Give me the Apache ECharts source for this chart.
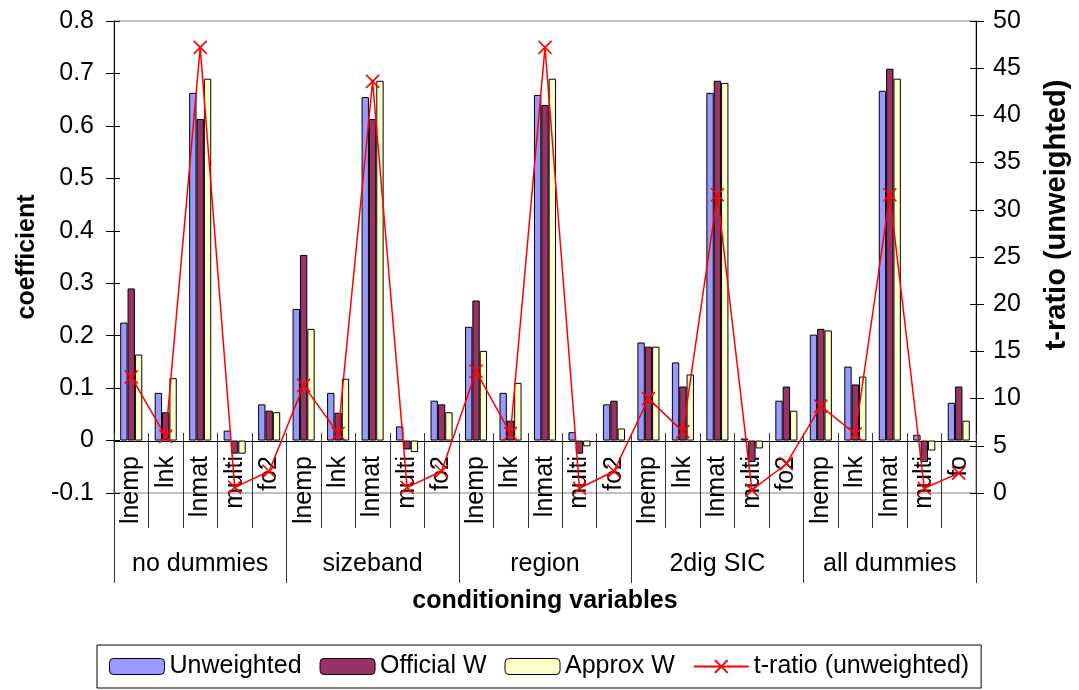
<!DOCTYPE html>
<html>
<head>
<meta charset="utf-8">
<script src="https://cdn.jsdelivr.net/npm/echarts@6/dist/echarts.min.js"></script>
<style>
  html, body { margin: 0; padding: 0; background: #fff; }
  #chart { width: 1079px; height: 690px; }
</style>
</head>
<body>
<div id="chart"></div>
<script>
// Regression specifications (outer category level)
const groups = ['no dummies', 'sizeband', 'region', '2dig SIC', 'all dummies'];
// Regressors within each specification (inner category level)
const regressors = [
  ['lnemp', 'lnk', 'lnmat', 'multi', 'fo2'],
  ['lnemp', 'lnk', 'lnmat', 'multi', 'fo2'],
  ['lnemp', 'lnk', 'lnmat', 'multi', 'fo2'],
  ['lnemp', 'lnk', 'lnmat', 'multi', 'fo2'],
  ['lnemp', 'lnk', 'lnmat', 'multi', 'fo']
];

// Coefficient estimates, in the same order as the flattened regressors
const coefUnweighted = [0.225, 0.091, 0.663, 0.019, 0.069,
                        0.251, 0.091, 0.655, 0.027, 0.076,
                        0.217, 0.091, 0.659, 0.016, 0.069,
                        0.187, 0.149, 0.663, 0.004, 0.076,
                        0.202, 0.141, 0.667, 0.011, 0.072];
const coefOfficial   = [0.290, 0.054, 0.613, -0.025, 0.057,
                        0.354, 0.053, 0.613, -0.017, 0.069,
                        0.267, 0.038, 0.640, -0.025, 0.076,
                        0.179, 0.103, 0.686, -0.041, 0.103,
                        0.213, 0.107, 0.709, -0.041, 0.103];
const coefApprox     = [0.164, 0.119, 0.690, -0.025, 0.054,
                        0.213, 0.118, 0.686, -0.022, 0.054,
                        0.171, 0.110, 0.690, -0.011, 0.023,
                        0.179, 0.126, 0.682, -0.015, 0.057,
                        0.210, 0.122, 0.690, -0.019, 0.038];
// t-ratios of the unweighted estimates (right axis)
const tRatio         = [12.3, 6.0, 47.2, 0.6, 2.3,
                        11.4, 6.3, 43.6, 0.6, 2.3,
                        12.9, 6.3, 47.2, 0.5, 2.3,
                        10.0, 6.5, 31.6, 0.3, 3.1,
                        9.2, 6.25, 31.6, 0.5, 2.1];

// Unique keys for the 25 inner categories: "group|regressor"
const categories = [];
groups.forEach((g, i) => regressors[i].forEach(r => categories.push(g + '|' + r)));

const FONT = '"Liberation Sans", Arial, sans-serif';
const COL_U = '#9999FF', COL_O = '#993366', COL_A = '#FFFFCC', COL_T = '#FF0000';
const crossSymbol = 'path://M0,0 L10,10 M10,0 L0,10';

// Value ranges; the category axis is drawn at the zero of the coefficient axis
const COEF_MIN = -0.1, COEF_MAX = 0.8, COEF_STEP = 0.1;
const T_MIN = 0, T_MAX = 50, T_STEP = 5;
const GRID_TOP = 21, GRID_BOTTOM = 197, CHART_H = 690;
const plotH = CHART_H - GRID_TOP - GRID_BOTTOM;
const zeroLift = Math.round(plotH * (0 - COEF_MIN) / (COEF_MAX - COEF_MIN));

const chart = echarts.init(document.getElementById('chart'), null, { renderer: 'canvas' });

const barStyle = c => ({ color: c, borderColor: '#000', borderWidth: 1 });

// Extra value axis drawing only the inner half of the crossing tick marks
const innerTicks = (min, max, step, pos) => ({
  type: 'value', min, max, interval: step, position: pos,
  axisLine: { show: false }, axisLabel: { show: false }, splitLine: { show: false },
  axisTick: { show: true, inside: true, length: 6, lineStyle: { color: '#000' } }
});

chart.setOption({
  animation: false,
  textStyle: { fontFamily: FONT, color: '#000' },
  grid: {
    left: 114, right: 94, top: GRID_TOP, bottom: GRID_BOTTOM,
    show: true, borderColor: '#808080', borderWidth: 1, backgroundColor: 'transparent'
  },
  legend: {
    left: 97, top: 645,
    padding: [9, 12],
    itemGap: 18,
    itemWidth: 55, itemHeight: 16,
    borderColor: '#000', borderWidth: 1,
    textStyle: { fontFamily: FONT, fontSize: 25, color: '#000' },
    data: [
      { name: 'Unweighted', itemStyle: barStyle(COL_U) },
      { name: 'Official W', itemStyle: barStyle(COL_O) },
      { name: 'Approx W', itemStyle: barStyle(COL_A) },
      { name: 't-ratio (unweighted)' }
    ]
  },
  xAxis: [
    {
      // inner level: regressors, axis line sits on the zero of the coefficient axis
      type: 'category',
      data: categories,
      position: 'bottom',
      offset: -zeroLift,
      axisLine: { show: true, onZero: false, lineStyle: { color: '#000', width: 1 } },
      axisTick: { show: true, interval: 0, length: 87, lineStyle: { color: '#333' } },
      axisLabel: {
        interval: 0, rotate: 90, margin: 15,
        fontSize: 25, fontFamily: FONT, color: '#000',
        formatter: v => v.split('|')[1]
      },
      splitLine: { show: false }
    },
    {
      // outer level: specifications, separators span both label rows
      type: 'category',
      data: groups,
      position: 'bottom',
      offset: 90,
      axisLine: { show: false, onZero: false },
      axisTick: { show: true, interval: 0, inside: true, length: 150, lineStyle: { color: '#333' } },
      axisLabel: { interval: 0, inside: true, margin: 6, fontSize: 25, fontFamily: FONT, color: '#000' },
      name: 'conditioning variables',
      nameLocation: 'middle',
      nameGap: 4,
      nameTextStyle: { fontSize: 25, fontWeight: 'bold', fontFamily: FONT, color: '#000', verticalAlign: 'top' },
      splitLine: { show: false }
    },
    {
      // short stubs of the inner separators above the zero line
      type: 'category',
      data: categories,
      position: 'bottom',
      offset: -zeroLift,
      axisLine: { show: false, onZero: false },
      axisTick: { show: true, interval: 0, inside: true, length: 8, lineStyle: { color: '#333' } },
      axisLabel: { show: false },
      splitLine: { show: false }
    }
  ],
  yAxis: [
    {
      type: 'value',
      min: COEF_MIN, max: COEF_MAX, interval: COEF_STEP,
      axisLine: { show: true, lineStyle: { color: '#000' } },
      axisTick: { show: true, length: 8, lineStyle: { color: '#000' } },
      axisLabel: {
        margin: 20, fontSize: 25, fontFamily: FONT, color: '#000',
        formatter: v => String(Math.round(v * 10) / 10)
      },
      splitLine: { show: false },
      name: 'coefficient',
      nameLocation: 'middle',
      nameRotate: 90,
      nameGap: 74,
      nameTextStyle: { fontSize: 25, fontWeight: 'bold', fontFamily: FONT, color: '#000' }
    },
    {
      type: 'value',
      min: T_MIN, max: T_MAX, interval: T_STEP,
      position: 'right',
      axisLine: { show: true, lineStyle: { color: '#000' } },
      axisTick: { show: true, length: 8, lineStyle: { color: '#000' } },
      axisLabel: { margin: 17, fontSize: 25, fontFamily: FONT, color: '#000' },
      splitLine: { show: false },
      name: 't-ratio (unweighted)',
      nameLocation: 'middle',
      nameRotate: 90,
      nameGap: 66,
      nameTextStyle: { fontSize: 29, fontWeight: 'bold', fontFamily: FONT, color: '#000', padding: [0, 0, 0, 84] }
    },
    innerTicks(COEF_MIN, COEF_MAX, COEF_STEP, 'left'),
    innerTicks(T_MIN, T_MAX, T_STEP, 'right')
  ],
  series: [
    { name: 'Unweighted', type: 'bar', xAxisIndex: 0, yAxisIndex: 0, data: coefUnweighted,
      barGap: '0%', barCategoryGap: '36%', itemStyle: barStyle(COL_U) },
    { name: 'Official W', type: 'bar', xAxisIndex: 0, yAxisIndex: 0, data: coefOfficial,
      barGap: '0%', barCategoryGap: '36%', itemStyle: barStyle(COL_O) },
    { name: 'Approx W', type: 'bar', xAxisIndex: 0, yAxisIndex: 0, data: coefApprox,
      barGap: '0%', barCategoryGap: '36%', itemStyle: barStyle(COL_A) },
    { name: 't-ratio (unweighted)', type: 'line', xAxisIndex: 0, yAxisIndex: 1, data: tRatio,
      symbol: crossSymbol, symbolSize: 13, showSymbol: true,
      lineStyle: { color: COL_T, width: 1.5 },
      itemStyle: { color: COL_T, borderColor: COL_T, borderWidth: 1.6 },
      z: 5 }
  ]
});
</script>
</body>
</html>
